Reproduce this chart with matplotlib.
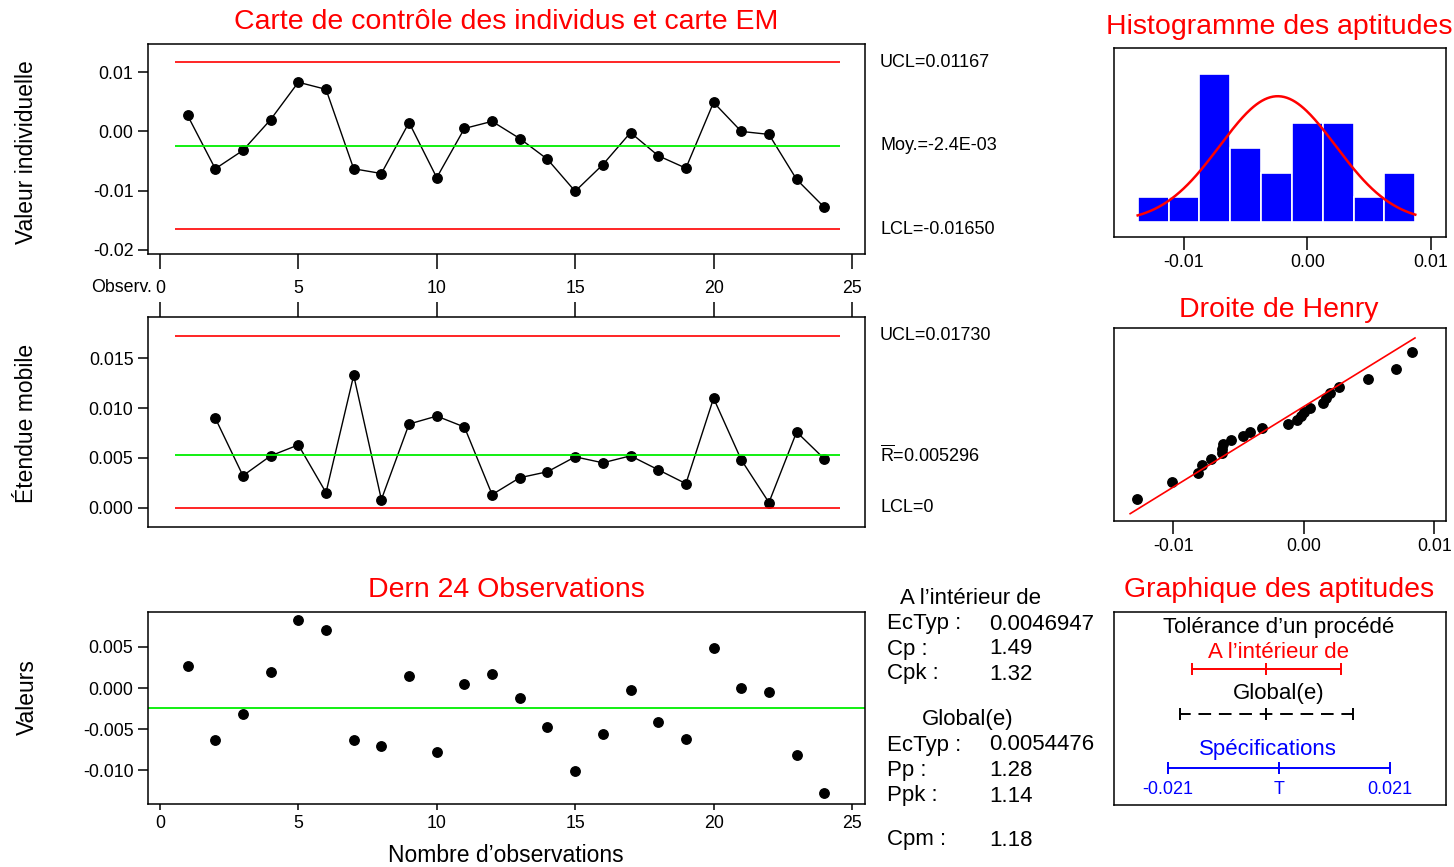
import numpy as np
import matplotlib
matplotlib.use('Agg')
import matplotlib.pyplot as plt
import matplotlib.transforms as mtransforms
from statistics import NormalDist

plt.rcParams['font.family'] = ['Liberation Sans', 'DejaVu Sans']
plt.rcParams['axes.unicode_minus'] = False
plt.rcParams['mathtext.fontset'] = 'custom'
plt.rcParams['mathtext.rm'] = 'Liberation Sans'

W, H = 1454, 867

# --- data ---
obs = list(range(1, 25))
individual = [0.0027, -0.0063, -0.0032, 0.0020, 0.0083, 0.0071, -0.0063, -0.0071,
              0.0015, -0.0078, 0.0005, 0.0017, -0.0012, -0.0047, -0.0101, -0.0056,
              -0.0002, -0.0041, -0.0062, 0.0049, 0.0000, -0.0005, -0.0081, -0.0128]
mr_obs = list(range(2, 25))
moving_range = [0.0090, 0.0032, 0.0052, 0.0063, 0.0015, 0.0133, 0.0008, 0.0084,
                0.0092, 0.0081, 0.0013, 0.0030, 0.0036, 0.0051, 0.0045, 0.0052,
                0.0038, 0.0024, 0.0110, 0.0048, 0.0005, 0.0076, 0.0049]

mean_x, ucl_x, lcl_x = -0.0024, 0.01167, -0.01650
mr_bar, ucl_mr, lcl_mr = 0.005296, 0.01730, 0.0
sigma_within, sigma_overall = 0.0046947, 0.0054476
lsl, target, usl = -0.021, 0.0, 0.021

hist_centers = [-0.0125, -0.0100, -0.0075, -0.0050, -0.0025, 0.0000, 0.0025, 0.0050, 0.0075]
hist_counts = [1, 1, 6, 3, 2, 4, 4, 1, 2]
bin_width = 0.0025

within_labels = ['EcTyp :', 'Cp :', 'Cpk :']
within_values = ['0.0046947', '1.49', '1.32']
overall_labels = ['EcTyp :', 'Pp :', 'Ppk :']
overall_values = ['0.0054476', '1.28', '1.14']
cpm_value = '1.18'

RED = '#ff0000'
GREEN = '#00ee00'
BLUE = '#0000ff'

fig = plt.figure(figsize=(W / 100, H / 100), dpi=100)


def px_axes(l, t, r, b):
    return fig.add_axes([l / W, 1 - b / H, (r - l) / W, (b - t) / H])


def ftext(x, y, s, **kw):
    kw.setdefault('va', 'center')
    return fig.text(x / W, 1 - y / H, s, **kw)


def style_box(ax):
    for sp in ax.spines.values():
        sp.set_linewidth(1.1)
        sp.set_color('black')


# --- individuals chart ---
ax1 = px_axes(148, 44, 865, 254)
style_box(ax1)
ax1.plot(obs, individual, color='black', lw=1.0, marker='o', ms=6.8, mfc='black', mec='black')
ax1.hlines([ucl_x, lcl_x], 0.55, 24.55, colors=RED, lw=1.2)
ax1.hlines(mean_x, 0.55, 24.55, colors=GREEN, lw=1.3)
ax1.set_xlim(-0.43, 25.47)
ax1.set_ylim(-0.02068, 0.01475)
ax1.set_yticks([-0.02, -0.01, 0.0, 0.01])
ax1.set_yticklabels(['-0.02', '-0.01', '0.00', '0.01'])
ax1.set_xticks(range(0, 26, 5))
ax1.tick_params(axis='x', direction='out', length=11, width=1.1, pad=8, labelsize=12.8)
ax1.tick_params(axis='y', direction='out', length=7, width=1.1, labelsize=12.8)
tr1 = mtransforms.blended_transform_factory(fig.transFigure, ax1.transData)
ax1.text(880 / W, ucl_x, 'UCL=0.01167', transform=tr1, va='center', fontsize=13)
ax1.text(880 / W, mean_x, 'Moy.=-2.4E-03', transform=tr1, va='center', fontsize=13)
ax1.text(880 / W, lcl_x, 'LCL=-0.01650', transform=tr1, va='center', fontsize=13)
ftext(152, 287, 'Observ.', ha='right', fontsize=12.8)

# --- moving range chart ---
ax2 = px_axes(148, 317, 865, 527)
style_box(ax2)
ax2.plot(mr_obs, moving_range, color='black', lw=1.0, marker='o', ms=6.8, mfc='black', mec='black')
ax2.hlines([ucl_mr, lcl_mr], 0.55, 24.55, colors=RED, lw=1.2)
ax2.hlines(mr_bar, 0.55, 24.55, colors=GREEN, lw=1.3)
ax2.set_xlim(-0.43, 25.47)
ax2.set_ylim(-0.00196, 0.01917)
ax2.set_yticks([0.0, 0.005, 0.010, 0.015])
ax2.set_yticklabels(['0.000', '0.005', '0.010', '0.015'])
ax2.set_xticks(range(0, 26, 5))
ax2.tick_params(axis='x', top=True, bottom=False, labeltop=False, labelbottom=False,
                direction='out', length=11, width=1.1)
ax2.tick_params(axis='y', direction='out', length=7, width=1.1, labelsize=12.8)
tr2 = mtransforms.blended_transform_factory(fig.transFigure, ax2.transData)
ax2.text(880 / W, ucl_mr, 'UCL=0.01730', transform=tr2, va='center', fontsize=13)
ax2.text(880 / W, mr_bar, r'$\overline{\mathrm{R}}$=0.005296', transform=tr2, va='center', fontsize=13)
ax2.text(880 / W, lcl_mr, 'LCL=0', transform=tr2, va='center', fontsize=13)

# --- last 24 observations ---
ax3 = px_axes(148, 612, 865, 804)
style_box(ax3)
ax3.plot(obs, individual, 'o', ms=6.8, mfc='black', mec='black')
ax3.axhline(mean_x, color=GREEN, lw=1.3)
ax3.set_xlim(-0.43, 25.47)
ax3.set_ylim(-0.01409, 0.00924)
ax3.set_yticks([-0.010, -0.005, 0.0, 0.005])
ax3.set_yticklabels(['-0.010', '-0.005', '0.000', '0.005'])
ax3.set_xticks(range(0, 26, 5))
ax3.tick_params(axis='x', direction='out', length=4, width=1.1, pad=4, labelsize=12.8)
ax3.tick_params(axis='y', direction='out', length=7, width=1.1, labelsize=12.8)

# --- capability histogram ---
ax4 = px_axes(1114, 48, 1446, 237)
style_box(ax4)
ax4.bar(hist_centers, hist_counts, width=bin_width, color=BLUE, edgecolor='white', lw=1.2)
xs = np.linspace(hist_centers[0] - bin_width / 2, hist_centers[-1] + bin_width / 2, 200)
pdf = len(individual) * bin_width * np.exp(-0.5 * ((xs - mean_x) / sigma_within) ** 2) / (sigma_within * np.sqrt(2 * np.pi))
ax4.plot(xs, pdf, color=RED, lw=1.8)
ax4.set_xlim(-0.01567, 0.01124)
ax4.set_ylim(-0.6, 7.05)
ax4.set_yticks([])
ax4.set_xticks([-0.01, 0.0, 0.01])
ax4.set_xticklabels(['-0.01', '0.00', '0.01'])
ax4.tick_params(axis='x', direction='out', length=9, width=1.1, labelsize=12.8)

# --- normal probability plot ---
ax5 = px_axes(1114, 328, 1446, 521)
style_box(ax5)
n = len(individual)
nd = NormalDist()
z_pos = [nd.inv_cdf((i - 0.375) / (n + 0.25)) for i in range(1, n + 1)]
ax5.plot(sorted(individual), z_pos, 'o', ms=6.8, mfc='black', mec='black')
z_line = np.array([nd.inv_cdf(0.01), nd.inv_cdf(0.99)])
ax5.plot(mean_x + z_line * sigma_within, z_line, color=RED, lw=1.2)
ax5.set_xlim(-0.01456, 0.0109)
ax5.set_ylim(-2.52, 2.59)
ax5.set_yticks([])
ax5.set_xticks([-0.01, 0.0, 0.01])
ax5.set_xticklabels(['-0.01', '0.00', '0.01'])
ax5.tick_params(axis='x', direction='out', length=9, width=1.1, labelsize=12.8)

# --- capability plot ---
ax6 = px_axes(1114, 612, 1446, 805)
style_box(ax6)
ax6.set_xlim(-0.0312, 0.0316)
ax6.set_ylim(193, 0)
ax6.set_xticks([])
ax6.set_yticks([])


def draw_interval(ax, lo, mid, hi, y, color, ls='-'):
    ax.plot([lo, hi], [y, y], color=color, lw=1.4, ls=ls)
    ax.vlines([lo, mid, hi], y - 6, y + 6, colors=color, lw=1.4)


ax6.text(0.0, 15, 'Tolérance d’un procédé', ha='center', va='center', fontsize=16)
ax6.text(0.0, 41, 'A l’intérieur de', ha='center', va='center', fontsize=16, color=RED)
draw_interval(ax6, mean_x - 3 * sigma_within, mean_x, mean_x + 3 * sigma_within, 57, RED)
ax6.text(0.0, 82, 'Global(e)', ha='center', va='center', fontsize=16)
draw_interval(ax6, mean_x - 3 * sigma_overall, mean_x, mean_x + 3 * sigma_overall, 102,
              'black', ls=(1, (6.5, 4.0)))
ax6.text(-0.002, 137, 'Spécifications', ha='center', va='center', fontsize=16, color=BLUE)
draw_interval(ax6, lsl, target, usl, 156, BLUE)
for xv, lab in zip([lsl, target, usl], ['-0.021', 'T', '0.021']):
    ax6.text(xv, 178, lab, ha='center', va='center', fontsize=13, color=BLUE)

# --- stats block ---
ftext(900, 598, 'A l’intérieur de', fontsize=16)
for i, (lab, val) in enumerate(zip(within_labels, within_values)):
    ftext(887, 624 + 25 * i, lab, fontsize=16)
    ftext(989, 624 + 25 * i, val, fontsize=16)
ftext(922, 719, 'Global(e)', fontsize=16)
for i, (lab, val) in enumerate(zip(overall_labels, overall_values)):
    ftext(887, 745 + 25.5 * i, lab, fontsize=16)
    ftext(989, 745 + 25.5 * i, val, fontsize=16)
ftext(887, 840, 'Cpm :', fontsize=16)
ftext(989, 840, cpm_value, fontsize=16)

# --- titles and axis labels ---
ftext(506, 22, 'Carte de contrôle des individus et carte EM', ha='center', fontsize=20.5, color=RED)
ftext(1279, 27, 'Histogramme des aptitudes', ha='center', fontsize=20.5, color=RED)
ftext(1279, 310, 'Droite de Henry', ha='center', fontsize=20.5, color=RED)
ftext(506, 590, 'Dern 24 Observations', ha='center', fontsize=20.5, color=RED)
ftext(1279, 590, 'Graphique des aptitudes', ha='center', fontsize=20.5, color=RED)
ftext(27, 152, 'Valeur individuelle', ha='center', rotation=90, fontsize=16.5)
ftext(27, 423, 'Étendue mobile', ha='center', rotation=90, fontsize=16.5)
ftext(27, 697, 'Valeurs', ha='center', rotation=90, fontsize=16.5)
ftext(506, 855, 'Nombre d’observations', ha='center', fontsize=16.5)

fig.savefig('out.png', dpi=100)
